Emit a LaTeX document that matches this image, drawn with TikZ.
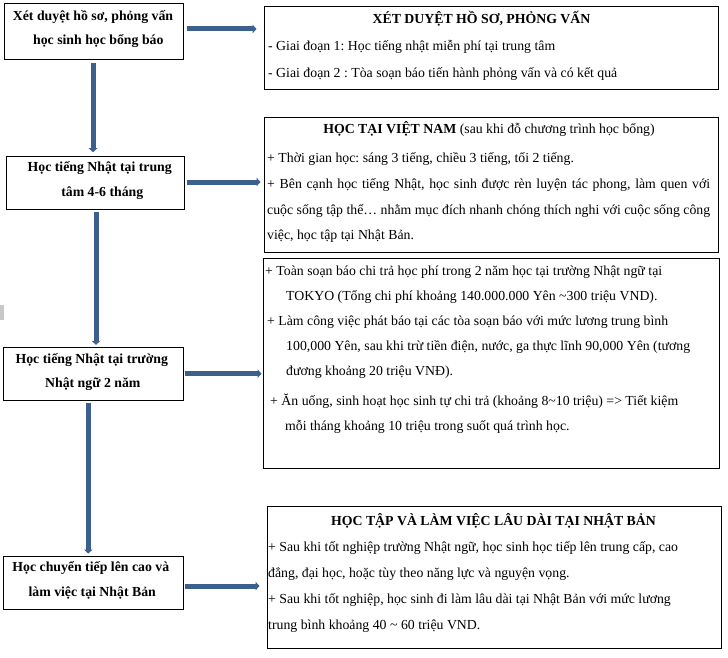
\documentclass[tikz,border=0pt]{standalone}
\usepackage{fontspec}
\setmainfont{Liberation Serif}
\frenchspacing
\usetikzlibrary{arrows.meta}
\definecolor{flowblue}{HTML}{3D5F8C}
\definecolor{edgegray}{HTML}{C8C8C8}

\begin{document}
\begin{tikzpicture}[
  x=1pt,y=-1pt,
  panel/.style={draw=black,line width=1pt,fill=white,inner sep=0pt},
  heading/.style={font=\fontsize{13.8}{15}\selectfont\bfseries,anchor=base,inner sep=0pt},
  body/.style={font=\fontsize{13.8}{15}\selectfont,anchor=base west,inner sep=0pt},
  flow/.style={-{Triangle[length=4pt,width=8.5pt]},line width=5pt,draw=flowblue}
]
\useasboundingbox (0,0) rectangle (728,658);
\fill[edgegray] (0,305) rectangle (4,320);

% Steps on the left
\node[panel,minimum width=179pt,minimum height=56pt] (step1) at (93.5,32) {};
\node[panel,minimum width=178pt,minimum height=52.6pt] (step2) at (95.5,183) {};
\node[panel,minimum width=180pt,minimum height=52.7pt] (step3) at (93.3,373.7) {};
\node[panel,minimum width=180pt,minimum height=53pt] (step4) at (93.3,582.5) {};

\node[heading] (step1-a) at (93,20.7) {Xét duyệt hồ sơ, phỏng vấn};
\node[heading] (step1-b) at (98.3,44.3) {học sinh học bổng báo};
\node[heading] (step2-a) at (99.7,171.7) {Học tiếng Nhật tại trung};
\node[heading] (step2-b) at (102.3,196.7) {tâm 4-6 tháng};
\node[heading] (step3-a) at (91.8,363.3) {Học tiếng Nhật tại trường};
\node[heading] (step3-b) at (92.8,387.3) {Nhật ngữ 2 năm};
\node[heading] (step4-a) at (90.8,571.7) {Học chuyển tiếp lên cao và};
\node[heading] (step4-b) at (92.2,596.7) {làm việc tại Nhật Bản};

% Detail boxes on the right
\node[panel,minimum width=454pt,minimum height=83.5pt] (info1) at (491,48.25) {};
\node[panel,minimum width=454pt,minimum height=134pt] (info2) at (491,185) {};
\node[panel,minimum width=456pt,minimum height=210pt] (info3) at (491,363) {};
\node[panel,minimum width=454pt,minimum height=142pt] (info4) at (494,577) {};

\node[heading] (info1-h) at (481.5,24) {XÉT DUYỆT HỒ SƠ, PHỎNG VẤN};
\node[body] (info1-a) at (268,50.5) {- Giai đoạn 1: Học tiếng nhật miễn phí tại trung tâm};
\node[body] (info1-b) at (268,77.5) {- Giai đoạn 2 : Tòa soạn báo tiến hành phỏng vấn và có kết quả};

\node[heading] (info2-h) at (489,133.5) {HỌC TẠI VIỆT NAM \mdseries(sau khi đỗ chương trình học bổng)};
\node[body] (info2-a) at (267,162) {+ Thời gian học: sáng 3 tiếng, chiều 3 tiếng, tối 2 tiếng.};
\node[body] (info2-b) at (267,188) {\makebox[443pt][s]{+ Bên cạnh học tiếng Nhật, học sinh được rèn luyện tác phong, làm quen với}};
\node[body] (info2-c) at (267,214) {\makebox[443pt][s]{cuộc sống tập thể… nhằm mục đích nhanh chóng thích nghi với cuộc sống công}};
\node[body] (info2-d) at (267,239) {việc, học tập tại Nhật Bản.};

\node[body] (info3-a) at (265,275) {+ Toàn soạn báo chi trả học phí trong 2 năm học tại trường Nhật ngữ tại};
\node[body] (info3-b) at (286,300) {TOKYO (Tổng chi phí khoảng 140.000.000 Yên \textasciitilde300 triệu VND).};
\node[body] (info3-c) at (267,325) {+ Làm công việc phát báo tại các tòa soạn báo với mức lương trung bình};
\node[body] (info3-d) at (286,350) {100,000 Yên, sau khi trừ tiền điện, nước, ga thực lĩnh 90,000 Yên (tương};
\node[body] (info3-e) at (286,375) {đương khoảng 20 triệu VNĐ).};
\node[body] (info3-f) at (270,405) {+ Ăn uống, sinh hoạt học sinh tự chi trả (khoảng 8\textasciitilde10 triệu) => Tiết kiệm};
\node[body] (info3-g) at (285,430) {mỗi tháng khoảng 10 triệu trong suốt quá trình học.};

\node[heading] (info4-h) at (493.5,525) {HỌC TẬP VÀ LÀM VIỆC LÂU DÀI TẠI NHẬT BẢN};
\node[body] (info4-a) at (268,551.5) {+ Sau khi tốt nghiệp trường Nhật ngữ, học sinh học tiếp lên trung cấp, cao};
\node[body] (info4-b) at (268,577) {đẳng, đại học, hoặc tùy theo năng lực và nguyện vọng.};
\node[body] (info4-c) at (268,603) {+ Sau khi tốt nghiệp, học sinh đi làm lâu dài tại Nhật Bản với mức lương};
\node[body] (info4-d) at (268,629) {trung bình khoảng 40 \textasciitilde{} 60 triệu VND.};

% Arrows
\draw[flow,shorten <=3pt,shorten >=7pt] ([yshift=3pt]step1.east) -- ([yshift=3pt]step1.east -| info1.west);
\draw[flow,shorten <=2pt,shorten >=3pt] ([yshift=1pt]step2.east) -- ([yshift=1pt]step2.east -| info2.west);
\draw[flow,shorten <=1pt,shorten >=1pt] (step3.east) -- (step3.east -| info3.west);
\draw[flow,shorten <=1pt,shorten >=7pt] ([yshift=-3.5pt]step4.east) -- ([yshift=-3.5pt]step4.east -| info4.west);

\draw[flow,shorten <=3pt,shorten >=4pt] ([xshift=-0.5pt]step1.south) -- ([xshift=-0.5pt]step1.south |- step2.north);
\draw[flow,shorten <=2pt,shorten >=2pt] ([xshift=0.5pt]step2.south) -- ([xshift=0.5pt]step2.south |- step3.north);
\draw[flow,shorten <=2pt,shorten >=2pt] ([xshift=-5pt]step3.south) -- ([xshift=-5pt]step3.south |- step4.north);

\end{tikzpicture}
\end{document}
